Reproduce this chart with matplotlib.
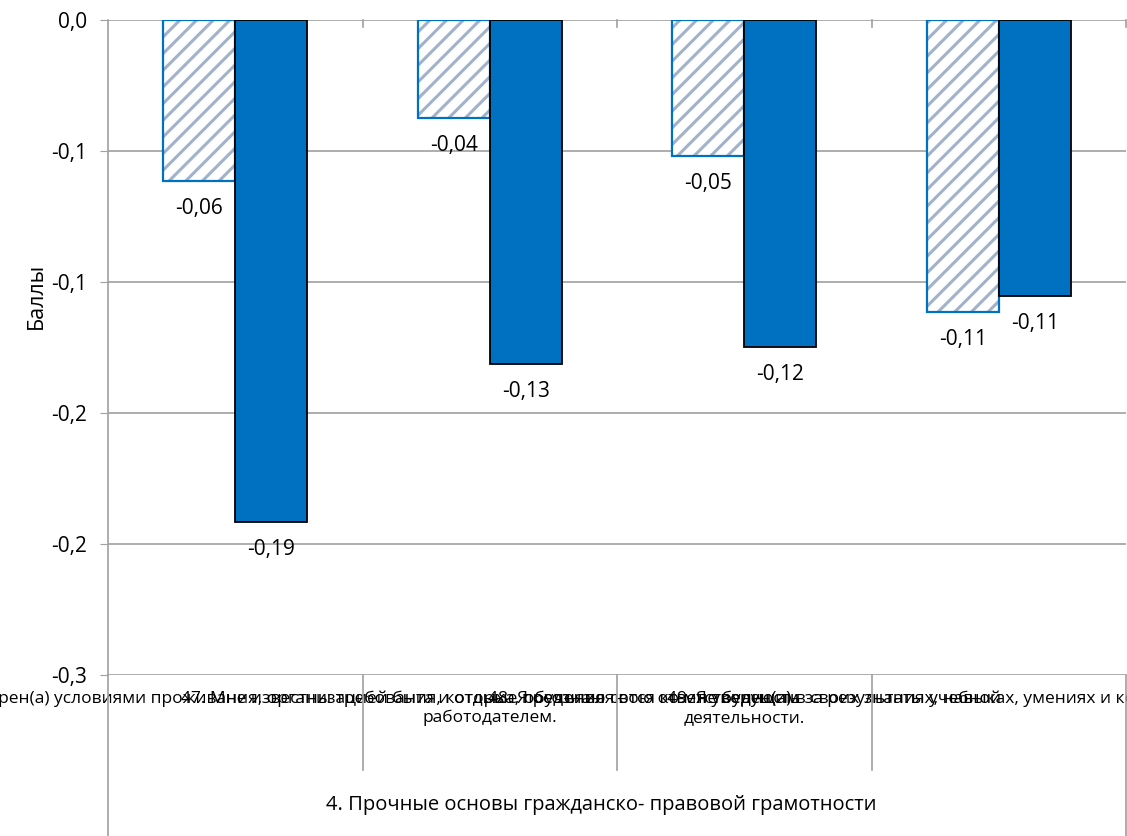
import matplotlib.pyplot as plt
from matplotlib.lines import Line2D

plt.rcParams['font.family'] = ['Open Sans', 'DejaVu Sans']
plt.rcParams['hatch.linewidth'] = 2.2

categories = [
    '27. Я удовлетворен(а) условиями проживания, организацией быта и отдыха, обучения',
    '47. Мне известны требования, которые предъявляются ко мне будущим\nработодателем.',
    '48. Я осознаю свою ответственность за результаты учебной\nдеятельности.',
    '49. Я уверен(а) в своих знаниях, навыках, умениях и компетенциях для будущ',
]
group_label = '4. Прочные основы гражданско- правовой грамотности'
series_a = [-0.0615, -0.0374, -0.0519, -0.1115]
series_b = [-0.1916, -0.1313, -0.1248, -0.1053]
yticks = [0.0, -0.05, -0.10, -0.15, -0.20, -0.25]
ytick_labels = ['0,0', '-0,1', '-0,1', '-0,2', '-0,2', '-0,3']

fig = plt.figure(figsize=(11.27, 8.36), dpi=100)
ax = fig.add_axes([108 / 1127, 1 - 675 / 836, 1018 / 1127, 655 / 836])

x = list(range(len(categories)))
w = 0.283
xa = [i - w / 2 for i in x]
xb = [i + w / 2 for i in x]

# hatched bars: fill + hatch first, then blue outline on top
ax.bar(xa, series_a, width=w, color='white', edgecolor='#A2B2CA', hatch='//', linewidth=0, zorder=3)
ax.bar(xa, series_a, width=w, fill=False, edgecolor='#0070C0', linewidth=1.6, zorder=4)
ax.bar(xb, series_b, width=w, color='#0070C0', edgecolor='black', linewidth=1.3, zorder=4)

for xs, vals in ((xa, series_a), (xb, series_b)):
    for xi, v in zip(xs, vals):
        ax.annotate(f'{v:.2f}'.replace('.', ','), (xi, v), xytext=(0, -20),
                    textcoords='offset points', ha='center', va='center', fontsize=15)

ax.set_xlim(-0.5, 3.5)
ax.set_ylim(-0.25, 0)
ax.set_yticks(yticks)
ax.set_yticklabels(ytick_labels, fontsize=15)
ax.tick_params(axis='y', length=6, color='#A0A0A0', pad=9)
ax.yaxis.grid(True, color='#A0A0A0', linewidth=1.2, zorder=0)
ax.set_axisbelow(True)

ax.set_xticks(x)
ax.set_xticklabels(categories, fontsize=12.5, linespacing=1.25)
ax.tick_params(axis='x', length=0, pad=11)

for s in ('top', 'right', 'bottom'):
    ax.spines[s].set_visible(False)
ax.spines['left'].set_color('#A0A0A0')
ax.spines['left'].set_linewidth(1.2)

# small ticks below the zero line and category table lines
for b in [i + 0.5 for i in x]:
    ax.add_line(Line2D([b, b], [1, 0.99], transform=ax.get_xaxis_transform(),
                       color='#A0A0A0', lw=1.2, clip_on=False))
for b in [i + 0.5 for i in x[:-1]]:
    ax.add_line(Line2D([b, b], [0, -95 / 655], transform=ax.get_xaxis_transform(),
                       color='#A0A0A0', lw=1.2, clip_on=False))
for b in (-0.5, 3.5):
    ax.add_line(Line2D([b, b], [0, -161 / 655], transform=ax.get_xaxis_transform(),
                       color='#A0A0A0', lw=1.2, clip_on=False))

ax.text(1.437, -130 / 655, group_label, transform=ax.get_xaxis_transform(),
        ha='center', va='center', fontsize=14.5)

fig.text(36 / 1127, 1 - 296 / 836, 'Баллы', rotation=90, ha='center', va='center', fontsize=15.5)

fig.savefig('out.png', dpi=100)
